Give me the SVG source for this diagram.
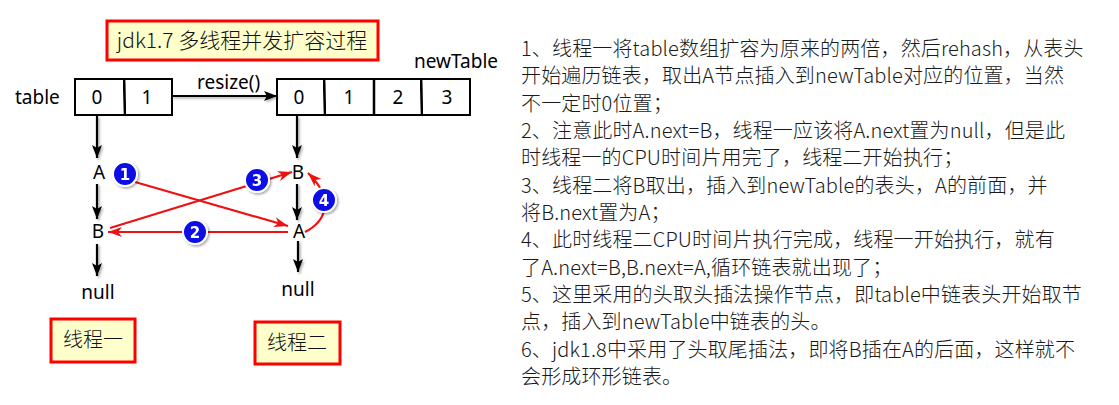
<svg xmlns="http://www.w3.org/2000/svg" width="1119" height="405" viewBox="0 0 1119 405">
<style>
.lbl{font-family:"Noto Sans","DejaVu Sans",sans-serif;font-size:19px;fill:#000;}
.cjk{font-family:"Noto Sans CJK SC","Noto Sans",sans-serif;font-weight:300;fill:#111;}
.note{fill:#ffffcc;stroke:#ff0000;stroke-width:3;}
.cell{fill:#fff;stroke:#000;stroke-width:2;}
.div{stroke:#000;stroke-width:2.5;}
.blk{stroke:#000;stroke-width:2.2;fill:none;marker-end:url(#ab);}
.red{stroke:#ee1111;stroke-width:2.2;fill:none;marker-end:url(#ar);}
.badge circle{fill:#0a0ae6;stroke:#fff;stroke-width:2;}
.badge text{font-family:"DejaVu Sans",sans-serif;font-weight:bold;font-size:15px;fill:#fff;text-anchor:middle;}
.txt{font-family:"Noto Sans CJK SC","Noto Sans",sans-serif;font-size:20px;font-weight:300;letter-spacing:0.15px;fill:#1a1a1a;}
</style>
<defs>
<marker id="ab" markerUnits="userSpaceOnUse" markerWidth="14" markerHeight="12" refX="13" refY="5" orient="auto">
<path d="M0,0 L13,5 L0,10 L3,5 z" fill="#000"/>
</marker>
<marker id="ar" markerUnits="userSpaceOnUse" markerWidth="16" markerHeight="12" refX="14" refY="5" orient="auto">
<path d="M0,0 L14,5 L0,10 L4,5 z" fill="#ee1111"/>
</marker>
<filter id="sh" x="-20%" y="-20%" width="150%" height="150%">
<feDropShadow dx="1.5" dy="1.5" stdDeviation="1" flood-color="#000" flood-opacity="0.35"/>
</filter>
</defs>

<g id="title">
<rect class="note" x="107" y="21" width="271" height="39"/>
<text class="cjk" x="242" y="48" font-size="21" text-anchor="middle">jdk1.7 多线程并发扩容过程</text>
</g>

<g id="table">
<text class="lbl" x="15" y="104">table</text>
<rect class="cell" x="75" y="79" width="97" height="36"/>
<line class="div" x1="124" y1="79" x2="125" y2="115" filter="url(#sh)"/>
<text class="lbl" x="97" y="104" text-anchor="middle">0</text>
<text class="lbl" x="147" y="104" text-anchor="middle">1</text>
</g>

<g id="newTable">
<text class="lbl" x="414" y="68">newTable</text>
<rect class="cell" x="277" y="79" width="193" height="36"/>
<line class="div" x1="324" y1="79" x2="325" y2="115" filter="url(#sh)"/>
<line class="div" x1="374" y1="79" x2="374" y2="115"/>
<line class="div" x1="421" y1="79" x2="422" y2="115" filter="url(#sh)"/>
<text class="lbl" x="299" y="104" text-anchor="middle">0</text>
<text class="lbl" x="349" y="104" text-anchor="middle">1</text>
<text class="lbl" x="398" y="104" text-anchor="middle">2</text>
<text class="lbl" x="447" y="104" text-anchor="middle">3</text>
</g>

<g id="t1-nodes">
<text class="lbl" x="99" y="179" text-anchor="middle">A</text>
<text class="lbl" x="98" y="238" text-anchor="middle">B</text>
<text class="lbl" x="98" y="299" text-anchor="middle">null</text>
</g>
<g id="t2-nodes">
<text class="lbl" x="298" y="179" text-anchor="middle">B</text>
<text class="lbl" x="299" y="238" text-anchor="middle">A</text>
<text class="lbl" x="298" y="296" text-anchor="middle">null</text>
</g>

<g id="connectors">
<g filter="url(#sh)">
<line class="blk" x1="172" y1="96" x2="277" y2="96"/>
<line class="blk" x1="97" y1="116" x2="97" y2="158"/>
<line class="blk" x1="97" y1="184" x2="97" y2="219"/>
<line class="blk" x1="97" y1="244" x2="97" y2="276"/>
<line class="blk" x1="297" y1="116" x2="297" y2="158"/>
<line class="blk" x1="297" y1="184" x2="297" y2="220"/>
<line class="blk" x1="298" y1="241" x2="298" y2="272"/>
</g>
<text class="lbl" x="197" y="89">resize()</text>
<line class="red" x1="135" y1="182" x2="288" y2="226"/>
<line class="red" x1="110" y1="228" x2="292" y2="172"/>
<line class="red" x1="288" y1="232" x2="108" y2="232"/>
<path class="red" d="M305,232 C325,222 336,200 308,173"/>
</g>

<g id="badge1" class="badge" filter="url(#sh)"><circle cx="125" cy="174" r="12"/><text x="125" y="179.5">1</text></g>
<g id="badge2" class="badge" filter="url(#sh)"><circle cx="195" cy="232" r="12"/><text x="195" y="237.5">2</text></g>
<g id="badge3" class="badge" filter="url(#sh)"><circle cx="257" cy="180" r="12"/><text x="257" y="185.5">3</text></g>
<g id="badge4" class="badge" filter="url(#sh)"><circle cx="324" cy="200" r="12"/><text x="324" y="205.5">4</text></g>

<g id="thread1">
<rect class="note" x="51" y="319" width="84" height="43"/>
<text class="cjk" x="93" y="347" font-size="20" text-anchor="middle">线程一</text>
</g>
<g id="thread2">
<rect class="note" x="255" y="322" width="85" height="42"/>
<text class="cjk" x="297" y="350" font-size="20" text-anchor="middle">线程二</text>
</g>

<g id="notes" class="txt">
<text x="521" y="56">1、线程一将table数组扩容为原来的两倍，然后rehash，从表头</text>
<text x="521" y="83">开始遍历链表，取出A节点插入到newTable对应的位置，当然</text>
<text x="521" y="111">不一定时0位置；</text>
<text x="521" y="138">2、注意此时A.next=B，线程一应该将A.next置为null，但是此</text>
<text x="521" y="165">时线程一的CPU时间片用完了，线程二开始执行；</text>
<text x="521" y="193">3、线程二将B取出，插入到newTable的表头，A的前面，并</text>
<text x="521" y="220">将B.next置为A；</text>
<text x="521" y="247">4、此时线程二CPU时间片执行完成，线程一开始执行，就有</text>
<text x="521" y="275">了A.next=B,B.next=A,循环链表就出现了；</text>
<text x="521" y="302">5、这里采用的头取头插法操作节点，即table中链表头开始取节</text>
<text x="521" y="329">点，插入到newTable中链表的头。</text>
<text x="521" y="357">6、jdk1.8中采用了头取尾插法，即将B插在A的后面，这样就不</text>
<text x="521" y="384">会形成环形链表。</text>
</g>
</svg>
